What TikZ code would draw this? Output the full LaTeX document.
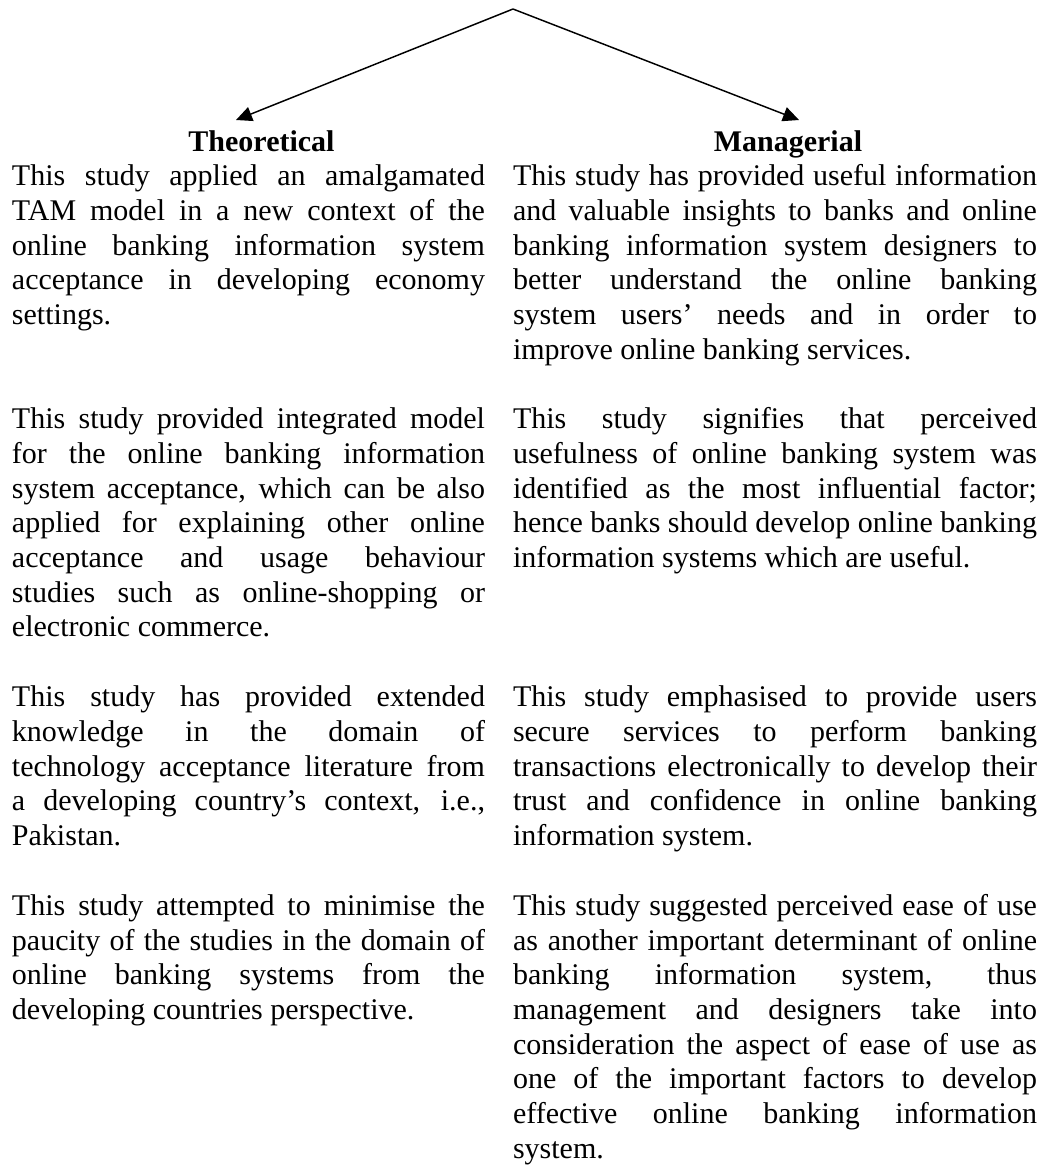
\documentclass[tikz,border=0pt]{standalone}
\usepackage{fontspec}
\setmainfont{Liberation Serif}
\usetikzlibrary{arrows.meta}
\newcommand\LL[1]{\makebox[354.75pt][s]{#1}}
\newcommand\RL[1]{\makebox[393pt][s]{#1}}
\newcommand\fr{\rule{0pt}{20pt}}
\tikzset{
  para/.style={anchor=north west, inner sep=0pt, outer sep=0pt, align=left,
    font=\fontsize{22.5}{26}\selectfont},
  head/.style={anchor=base, inner sep=0pt, font=\fontsize{22.5}{26}\selectfont\bfseries},
  conn/.style={line width=1.1pt, -{Triangle[length=12pt,width=11pt]}}
}
\begin{document}
\begin{tikzpicture}[x=0.75pt,y=-0.75pt]
\useasboundingbox (0,0) rectangle (1045,1165);
\coordinate (apex) at (513,9);
\coordinate (ltip) at (236,120);
\coordinate (rtip) at (799,120);
\draw[conn] (apex) -- (ltip);
\draw[conn] (apex) -- (rtip);
\node[head] (theo) at (261.5,151) {Theoretical};
\node[head] (mana) at (788,151) {Managerial};
% row 1
\node[para] (l1) at (12,159.3) {\fr\LL{This study applied an amalgamated}\\\LL{TAM model in a new context of the}\\\LL{online banking information system}\\\LL{acceptance in developing economy}\\settings.};
\node[para] (r1) at (513,159.3) {\fr\RL{This study has provided useful information}\\\RL{and valuable insights to banks and online}\\\RL{banking information system designers to}\\\RL{better understand the online banking}\\\RL{system users' needs and in order to}\\improve online banking services.};
% row 2
\node[para] (l2) at (12,402.3) {\fr\LL{This study provided integrated model}\\\LL{for the online banking information}\\\LL{system acceptance, which can be also}\\\LL{applied for explaining other online}\\\LL{acceptance and usage behaviour}\\\LL{studies such as online-shopping or}\\electronic commerce.};
\node[para] (r2) at (513,402.3) {\fr\RL{This study signifies that perceived}\\\RL{usefulness of online banking system was}\\\RL{identified as the most influential factor;}\\\RL{hence banks should develop online banking}\\information systems which are useful.};
% row 3
\node[para] (l3) at (12,680) {\fr\LL{This study has provided extended}\\\LL{knowledge in the domain of}\\\LL{technology acceptance literature from}\\\LL{a developing country's context, i.e.,}\\Pakistan.};
\node[para] (r3) at (513,680) {\fr\RL{This study emphasised to provide users}\\\RL{secure services to perform banking}\\\RL{transactions electronically to develop their}\\\RL{trust and confidence in online banking}\\information system.};
% row 4
\node[para] (l4) at (12,888.8) {\fr\LL{This study attempted to minimise the}\\\LL{paucity of the studies in the domain of}\\\LL{online banking systems from the}\\developing countries perspective.};
\node[para] (r4) at (513,888.8) {\fr\RL{This study suggested perceived ease of use}\\\RL{as another important determinant of online}\\\RL{banking information system, thus}\\\RL{management and designers take into}\\\RL{consideration the aspect of ease of use as}\\\RL{one of the important factors to develop}\\\RL{effective online banking information}\\system.};
\end{tikzpicture}
\end{document}
